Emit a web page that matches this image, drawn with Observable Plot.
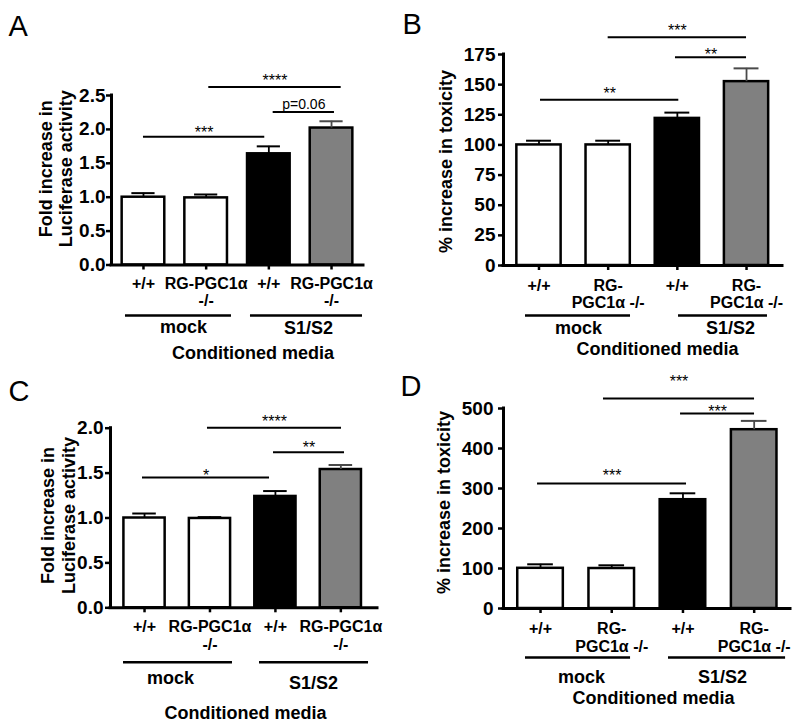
<!DOCTYPE html>
<html>
<head>
<meta charset="utf-8">
<script src="https://cdn.jsdelivr.net/npm/d3@7"></script>
<script src="https://cdn.jsdelivr.net/npm/@observablehq/plot@0.6"></script>
<style>
  body { margin: 0; background: #fff; }
  #fig { position: relative; width: 800px; height: 725px; overflow: hidden; background: #fff; }
  #fig > div { position: absolute; }
</style>
</head>
<body>
<div id="fig"></div>
<script>
// ---------------- DATA ----------------
const groupNames = ["mock", "S1/S2"];
const genotypeLabelsWide = ["+/+", "RG-PGC1α\n-/-", "+/+", "RG-PGC1α\n-/-"];
const genotypeLabelsNarrow = ["+/+", "RG-\nPGC1α -/-", "+/+", "RG-\nPGC1α -/-"];
const xCaption = "Conditioned media";

// Panel A: luciferase fold increase
const luciferaseA = [1.00, 0.99, 1.64, 2.02];
const luciferaseA_sem = [0.06, 0.05, 0.11, 0.10];
const ticksA = [0, 0.5, 1.0, 1.5, 2.0, 2.5];
const signifA = ["***", "****", "p=0.06"];

// Panel B: % toxicity
const toxicityB = [100, 100, 122, 152.5];
const toxicityB_sem = [3.5, 3.5, 4.8, 11];
const ticksB = [0, 25, 50, 75, 100, 125, 150, 175];
const signifB = ["**", "***", "**"];

// Panel C: luciferase fold increase
const luciferaseC = [1.00, 0.995, 1.24, 1.54];
const luciferaseC_sem = [0.05, 0.015, 0.06, 0.05];
const ticksC = [0, 0.5, 1.0, 1.5, 2.0];
const signifC = ["*", "****", "**"];

// Panel D: % toxicity
const toxicityD = [100.5, 100, 272, 447];
const toxicityD_sem = [10, 8, 16, 22];
const ticksD = [0, 100, 200, 300, 400, 500];
const signifD = ["***", "***", "***"];

// Bar styling (per condition)
const barFills = ["#ffffff", "#ffffff", "#000000", "#808080"];
const errColors = ["#000000", "#000000", "#000000", "#4a4a4a"];

// ---------------- LAYOUT ----------------
const FONT = "'Liberation Sans', Arial, Helvetica, sans-serif";

const panels = [
  {
    letter: "A", left: 0, top: 0, width: 400, height: 360,
    values: luciferaseA, sems: luciferaseA_sem, ticks: ticksA, fmt: d3.format(".1f"),
    yLabel: "Fold increase in\nLuciferase activity", xLabels: genotypeLabelsWide, signif: signifA,
    margin: {top: 95, right: 37, bottom: 95.5, left: 111},
    xDomain: [-0.51, 3.51], yDomain: [0, 2.5], barWidth: 0.68, capWidth: 0.37,
    yTickPadding: 1, xTickPadding: 6,
    letterPos: {dx: -103, dy: -60}, yLabelPos: {dx: -56, dy: -11.5},
    sigPos: [{x1: 0, x2: 1.935, y: 1.89, dy: 1.3}, {x1: 1.042, x2: 3.154, y: 2.625, dy: -0.7}, {x1: 2.069, x2: 3.047, y: 2.257, dy: -3}],
    groupPos: [{x1: -0.287, x2: 1.404, tx: 0.638, dy: 67.5}, {x1: 1.707, x2: 3.494, tx: 2.632, dy: 68.5}],
    groupLineDy: 50.5, captionPos: {x: 1.747, dy: 93.5}
  },
  {
    letter: "B", left: 400, top: 0, width: 400, height: 360,
    values: toxicityB, sems: toxicityB_sem, ticks: ticksB, fmt: d3.format("d"),
    yLabel: "% increase in toxicity", xLabels: genotypeLabelsNarrow, signif: signifB,
    margin: {top: 54, right: 18, bottom: 95, left: 103},
    xDomain: [-0.513, 3.52], yDomain: [0, 175], barWidth: 0.64, capWidth: 0.36,
    yTickPadding: 3, xTickPadding: 7.5,
    letterPos: {dx: -101, dy: -21}, yLabelPos: {dx: -58, dy: 1.5},
    sigPos: [{x1: 0.022, x2: 2.021, y: 137.4, dy: -1}, {x1: 1.0, x2: 3.0, y: 189.3, dy: -1.4}, {x1: 1.973, x2: 3.0, y: 172.8, dy: 3.3}],
    groupPos: [{x1: -0.195, x2: 1.323, tx: 0.571, dy: 68}, {x1: 2.017, x2: 3.303, tx: 2.768, dy: 68}],
    groupLineDy: 50, captionPos: {x: 1.713, dy: 89}
  },
  {
    letter: "C", left: 0, top: 360, width: 400, height: 365,
    values: luciferaseC, sems: luciferaseC_sem, ticks: ticksC, fmt: d3.format(".1f"),
    yLabel: "Fold increase in\nLuciferase activity", xLabels: genotypeLabelsWide, signif: signifC,
    margin: {top: 67.7, right: 23, bottom: 117.7, left: 110},
    xDomain: [-0.52, 3.56], yDomain: [0, 2], barWidth: 0.63, capWidth: 0.36,
    yTickPadding: 2, xTickPadding: 6.8,
    letterPos: {dx: -102, dy: -27.7}, yLabelPos: {dx: -52.5, dy: -2.5},
    sigPos: [{x1: -0.031, x2: 1.91, y: 1.451, dy: 3.3}, {x1: 0.962, x2: 3.01, y: 2.004, dy: -1.3}, {x1: 1.971, x2: 3.056, y: 1.733, dy: 0.9}],
    groupPos: [{x1: -0.321, x2: 1.344, tx: 0.397, dy: 75.7}, {x1: 1.757, x2: 3.423, tx: 2.582, dy: 80.7}],
    groupLineDy: 54.4, captionPos: {x: 1.543, dy: 110.7}
  },
  {
    letter: "D", left: 400, top: 360, width: 400, height: 365,
    values: toxicityD, sems: toxicityD_sem, ticks: ticksD, fmt: d3.format("d"),
    yLabel: "% increase in toxicity", xLabels: genotypeLabelsNarrow, signif: signifD,
    margin: {top: 48, right: 10, bottom: 117, left: 103},
    xDomain: [-0.52, 3.51], yDomain: [0, 500], barWidth: 0.64, capWidth: 0.36,
    yTickPadding: 5, xTickPadding: 8,
    letterPos: {dx: -103, dy: -13}, yLabelPos: {dx: -60, dy: -6},
    sigPos: [{x1: -0.042, x2: 2.05, y: 312.5, dy: -2.7}, {x1: 0.884, x2: 3.005, y: 525, dy: -11.7}, {x1: 1.966, x2: 3.005, y: 487.5, dy: 3}],
    groupPos: [{x1: -0.211, x2: 1.264, tx: 0.575, dy: 74}, {x1: 1.797, x2: 3.441, tx: 2.556, dy: 74}],
    groupLineDy: 49, captionPos: {x: 1.587, dy: 95}
  }
];

function drawPanel(p) {
  const rows = p.values.map((v, i) => ({
    i, v, top: v + p.sems[i], fill: barFills[i], err: errColors[i]
  }));
  const sigRows = p.signif.map((label, k) => ({label, ...p.sigPos[k]}));
  const groupRows = groupNames.map((label, k) => ({label, ...p.groupPos[k]}));
  const bw = p.barWidth / 2, cw = p.capWidth / 2;

  const marks = [
    // bars
    Plot.rect(rows, {x1: d => d.i - bw, x2: d => d.i + bw, y1: 0, y2: "v",
      fill: "fill", stroke: "#000", strokeWidth: 2.5}),
    // error bars (upper SEM)
    Plot.ruleX(rows, {x: "i", y1: "v", y2: "top", stroke: "err", strokeWidth: 1.8}),
    Plot.ruleY(rows, {y: "top", x1: d => d.i - cw, x2: d => d.i + cw, stroke: "err", strokeWidth: 2}),
    // axes lines
    Plot.ruleX([p.xDomain[0]], {stroke: "#000", strokeWidth: 3, strokeLinecap: "square"}),
    Plot.ruleY([0], {stroke: "#000", strokeWidth: 3, strokeLinecap: "square"}),
    Plot.axisY(p.ticks, {anchor: "left", tickSize: 5, tickPadding: p.yTickPadding, strokeWidth: 2.5,
      tickFormat: p.fmt, fontSize: 19, fontWeight: "bold", label: null}),
    Plot.axisX([0, 1, 2, 3], {anchor: "bottom", tickSize: 5, tickPadding: p.xTickPadding, strokeWidth: 2.5,
      tickFormat: i => p.xLabels[i], fontSize: 16, fontWeight: "bold", lineHeight: 1.1, label: null}),
    // significance bars
    Plot.ruleY(sigRows, {y: "y", x1: "x1", x2: "x2", stroke: "#000", strokeWidth: 2}),
    ...sigRows.map(s => Plot.text([s], {x: d => (d.x1 + d.x2) / 2, y: "y", text: "label",
      dy: s.dy, lineAnchor: "bottom", fontSize: s.label.startsWith("p") ? 14 : 16, fontWeight: "normal"})),
    // group lines & labels
    Plot.ruleY(groupRows, {y: () => 0, x1: "x1", x2: "x2", dy: p.groupLineDy, stroke: "#000", strokeWidth: 2.5}),
    ...groupRows.map(g => Plot.text([g], {x: "tx", y: () => 0, text: "label", dy: g.dy,
      lineAnchor: "bottom", fontSize: 18, fontWeight: "bold"})),
    Plot.text([xCaption], {x: () => p.captionPos.x, y: () => 0, text: d => d, dy: p.captionPos.dy,
      lineAnchor: "bottom", fontSize: 18, fontWeight: "bold"}),
    // y label
    Plot.text([p.yLabel], {frameAnchor: "left", text: d => d, rotate: -90, textAnchor: "middle", lineAnchor: "middle",
      dx: p.yLabelPos.dx, dy: p.yLabelPos.dy, fontSize: 18, fontWeight: "bold", lineHeight: 1.15}),
    // panel letter
    Plot.text([p.letter], {frameAnchor: "top-left", text: d => d, textAnchor: "start", lineAnchor: "bottom",
      dx: p.letterPos.dx, dy: p.letterPos.dy, fontSize: 29, fontWeight: "normal"})
  ];

  const chart = Plot.plot({
    width: p.width, height: p.height,
    marginTop: p.margin.top, marginRight: p.margin.right,
    marginBottom: p.margin.bottom, marginLeft: p.margin.left,
    x: {domain: p.xDomain, axis: null},
    y: {domain: p.yDomain, axis: null},
    color: {type: "identity"},
    style: {fontFamily: FONT, fontSize: "16px", fontWeight: "bold", color: "#000", background: "transparent", overflow: "visible"},
    marks
  });
  const holder = document.createElement("div");
  holder.style.left = p.left + "px";
  holder.style.top = p.top + "px";
  holder.style.width = p.width + "px";
  holder.style.height = p.height + "px";
  holder.appendChild(chart);
  document.getElementById("fig").appendChild(holder);
}

panels.forEach(drawPanel);
</script>
</body>
</html>
